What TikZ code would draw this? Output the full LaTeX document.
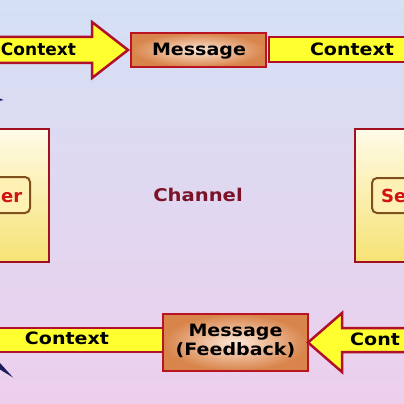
\documentclass[tikz,border=0pt]{standalone}
\usepackage{fontspec}
\newfontfamily\lbl{DejaVu Sans}[FakeStretch=1.12]
\newfontfamily\rolefont{DejaVu Sans}
\definecolor{bgtop}{HTML}{D4E0F4}
\definecolor{bgmid}{HTML}{F7F5F9}
\definecolor{bgbot}{HTML}{EDCFED}
\definecolor{ctxyellow}{HTML}{FFFF30}
\definecolor{ctxborder}{HTML}{B0102A}
\definecolor{msgborder}{HTML}{B81424}
\definecolor{msglight}{HTML}{FDE8D8}
\definecolor{msgdark}{HTML}{D8844A}
\definecolor{boxborder}{HTML}{A01020}
\definecolor{boxtop}{HTML}{FFFBE8}
\definecolor{boxbot}{HTML}{F6E274}
\definecolor{innerborder}{HTML}{80501C}
\definecolor{innerfill}{HTML}{FFF0B4}
\definecolor{innertext}{HTML}{D01414}
\definecolor{chan}{HTML}{7C1228}
\definecolor{navy}{HTML}{1C1C5C}
\begin{document}
\begin{tikzpicture}[x=1pt,y=-1pt,
  txt/.style={font=\lbl\bfseries\fontsize{17}{20}\selectfont, inner sep=0pt, text height=12.4pt, text depth=0pt, text=black},
  ctx/.style={fill=ctxyellow, draw=ctxborder, line width=2.5pt, line join=miter},
  msgbox/.style={draw=msgborder, line width=2.5pt, inner color=msglight, outer color=msgdark, inner sep=0pt},
  bigbox/.style={draw=boxborder, line width=2pt, top color=boxtop, bottom color=boxbot},
  innerbox/.style={draw=innerborder, line width=2pt, fill=innerfill, rounded corners=5pt},
  role/.style={font=\rolefont\bfseries\fontsize{18}{20}\selectfont, inner sep=0pt, text height=13pt, text depth=0pt, text=innertext}]
\useasboundingbox (0,0) rectangle (404,404);
\clip (0,0) rectangle (404,404);
\shade[top color=bgtop, middle color=bgmid, bottom color=bgbot] (0,0) rectangle (404,404);

% top row
\draw[ctx] (-10,37) -- (92,37) -- (92,22) -- (128,50) -- (92,78) -- (92,63) -- (-10,63) -- cycle;
\node[txt, font=\rolefont\bfseries\fontsize{17}{20}\selectfont] (ctxTL) at (38.5,49) {Context};
\node[msgbox, minimum width=135pt, minimum height=34pt] (msgT) at (198.5,50) {};
\node[txt] (msgTtxt) at (199,49.5) {Message};
\draw[ctx] (269,37) rectangle (414,62);
\node[txt] (ctxTR) at (352,49.5) {Context};

% side boxes
\draw[bigbox] (-10,129) rectangle (49,262);
\draw[innerbox] (-10,177) rectangle (30,213);
\node[role, anchor=east] (recv) at (22.5,195.5) {er};
\draw[bigbox] (355,129) rectangle (414,262);
\draw[innerbox] (372,178) rectangle (414,213);
\node[role, anchor=west] (send) at (381,196) {Se};

% channel
\node[font=\lbl\bfseries\fontsize{17.5}{20}\selectfont, inner sep=0pt, text height=12.8pt, text depth=0pt, text=chan] (chan) at (198,195) {Channel};

% bottom row
\draw[ctx] (-10,328) rectangle (163,352);
\node[txt] (ctxBL) at (67,338.5) {Context};
\node[msgbox, minimum width=145pt, minimum height=57pt] (msgB) at (235.5,342.5) {};
\node[txt] (msgB1) at (235.5,330) {Message};
\node[txt] (msgB2) at (235.5,349) {(Feedback)};
\draw[ctx] (414,328) -- (342,328) -- (342,313) -- (308,342.5) -- (342,372) -- (342,352) -- (414,352) -- cycle;
\node[txt, anchor=west] (ctxBR) at (350,339) {Cont};

% small navy marks at the left edge
\fill[navy] (0,363) -- (13,377.5) -- (0,369.5) -- cycle;
\fill[navy] (0,98.5) -- (3.5,100) -- (0,100.8) -- cycle;
\end{tikzpicture}
\end{document}
